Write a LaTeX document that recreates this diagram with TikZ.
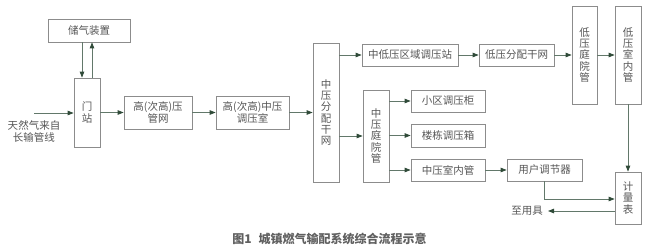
\documentclass[tikz,border=0pt]{standalone}
\usepackage{fontspec}
\setmainfont{Noto Sans CJK SC}
\usetikzlibrary{arrows.meta,calc}
\definecolor{boxgray}{HTML}{8C8C8C}
\definecolor{txtgray}{HTML}{555555}
\definecolor{capgray}{HTML}{606060}
\definecolor{lngreen}{HTML}{62786A}
\definecolor{tipgreen}{HTML}{2F4A38}
\begin{document}
\begin{tikzpicture}[x=1pt,y=-1pt,
  box/.style={draw=boxgray,line width=0.7pt,inner sep=0pt,align=center,text=txtgray,
    font=\fontsize{10.5}{12}\selectfont},
  vbox/.style={box,font=\fontsize{10.5}{11.2}\selectfont},
  arr/.style={draw=lngreen,line width=0.8pt,-{Triangle[length=6pt,width=4.5pt,fill=tipgreen,color=tipgreen]}},
  lbl/.style={text=txtgray,align=center,inner sep=0pt,font=\fontsize{10.5}{12}\selectfont}]
\useasboundingbox (0,0) rectangle (650,250);
% nodes
\node[box,minimum width=82,minimum height=23] (store) at (89,30.5) {储气装置};
\node[vbox,minimum width=26,minimum height=69] (gate) at (87,112.5) {门\\站};
\node[box,minimum width=68,minimum height=33] (hp) at (158,112.5) {高(次高)压\\管网};
\node[box,minimum width=73,minimum height=33] (reg) at (252.5,112.5) {高(次高)中压\\调压室};
\node[vbox,minimum width=26,minimum height=139] (mpd) at (326,112.5) {中\\压\\分\\配\\干\\网};
\node[box,minimum width=96,minimum height=22] (mlr) at (410,55) {中低压区域调压站};
\node[box,minimum width=75,minimum height=22] (lpd) at (516.5,55) {低压分配干网};
\node[vbox,minimum width=25,minimum height=98] (lpy) at (584.5,55) {低\\压\\庭\\院\\管};
\node[vbox,minimum width=26,minimum height=98] (lpi) at (628,55) {低\\压\\室\\内\\管};
\node[vbox,minimum width=26,minimum height=92] (mpy) at (376,136) {中\\压\\庭\\院\\管};
\node[box,minimum width=74,minimum height=22] (xq) at (448,101) {小区调压柜};
\node[box,minimum width=74,minimum height=23] (ld) at (448,135.5) {楼栋调压箱};
\node[box,minimum width=74,minimum height=22] (mpi) at (448,170) {中压室内管};
\node[box,minimum width=75,minimum height=22] (user) at (544.5,170) {用户调节器};
\node[vbox,minimum width=26,minimum height=52] (meter) at (628,198) {计\\量\\表};
% input
\coordinate (src) at (34,113);
\node[lbl] (srclbl) at (34,131) {天然气来自\\长输管线};
\coordinate (toapp) at (548,211);
\node[lbl,anchor=east] (applbl) at (543,211) {至用具};
% connectors
\draw[arr] ([xshift=-5]gate.north |- store.south) -- ([xshift=-5]gate.north);
\draw[arr] ([xshift=5]gate.north) -- ([xshift=5]gate.north |- store.south);
\draw[arr] (src) -- (gate.west |- src);
\draw[arr] (gate.east |- hp.west) -- (hp.west);
\draw[arr] (hp.east) -- (reg.west);
\draw[arr] (reg.east) -- (mpd.west |- reg.east);
\draw[arr] (mpd.east |- mlr.west) -- (mlr.west);
\draw[arr] (mpd.east |- mpy.west) -- (mpy.west);
\draw[arr] (mlr.east) -- (lpd.west);
\draw[arr] (lpd.east) -- (lpy.west |- lpd.east);
\draw[arr] (lpy.east) -- (lpi.west);
\draw[arr] (mpy.east |- xq.west) -- (xq.west);
\draw[arr] (mpy.east |- ld.west) -- (ld.west);
\draw[arr] (mpy.east |- mpi.west) -- (mpi.west);
\draw[arr] (mpi.east) -- (user.west);
\draw[arr] (lpi.south) -- (meter.north);
\draw[arr] (user.south) |- ([yshift=-1]meter.west);
\draw[arr] (meter.west |- toapp) -- (toapp);
% caption
\node[text=capgray,inner sep=0pt,font=\fontsize{12}{14}\selectfont\bfseries] (cap) at (329.5,239) {图1\hspace{7pt}城镇燃气输配系统综合流程示意};
\end{tikzpicture}
\end{document}
